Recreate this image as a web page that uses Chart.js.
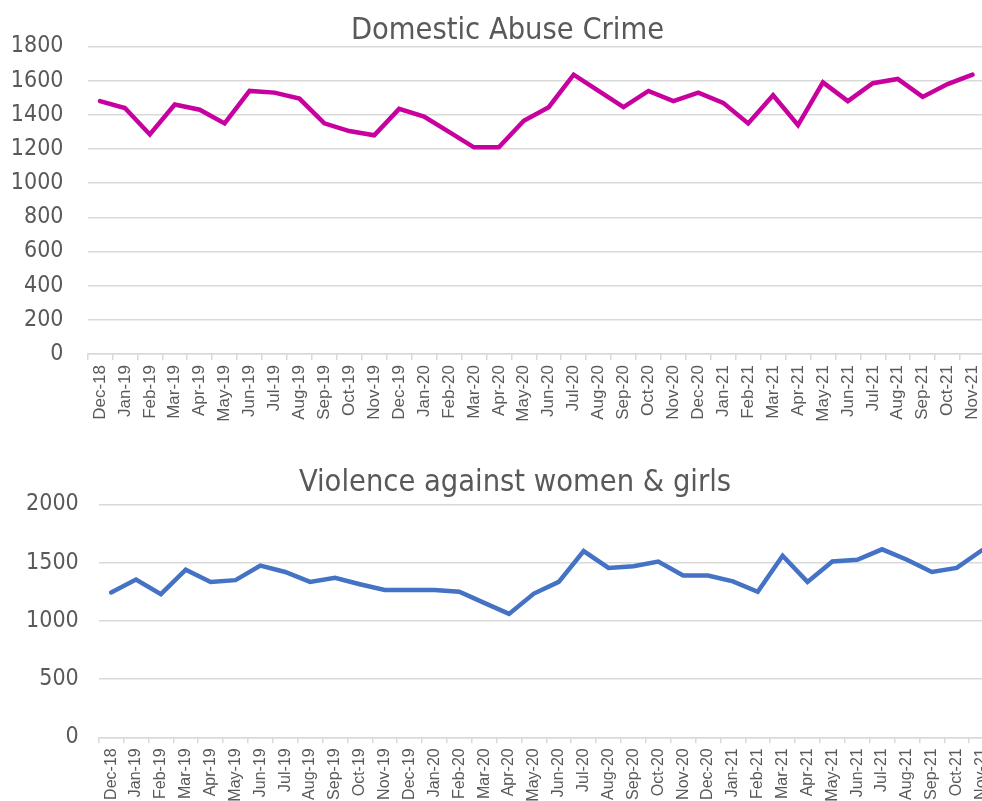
<!DOCTYPE html>
<html>
<head>
<meta charset="utf-8">
<script src="https://cdn.jsdelivr.net/npm/chart.js@4"></script>
<style>
  html, body { margin: 0; padding: 0; background: #fff; overflow: hidden; width: 982px; height: 801px; }
  #box1 { position: absolute; left: 0; top: 0; width: 985px; height: 440px; }
  #box2 { position: absolute; left: 0; top: 440px; width: 994px; height: 361px; }
</style>
</head>
<body>
<div id="box1"><canvas id="grafico1"></canvas></div>
<div id="box2"><canvas id="grafico2"></canvas></div>
<script>
// Meses (Dec-18 .. Nov-21)
var meses = ['Dec-18','Jan-19','Feb-19','Mar-19','Apr-19','May-19','Jun-19','Jul-19','Aug-19','Sep-19','Oct-19','Nov-19',
  'Dec-19','Jan-20','Feb-20','Mar-20','Apr-20','May-20','Jun-20','Jul-20','Aug-20','Sep-20','Oct-20','Nov-20',
  'Dec-20','Jan-21','Feb-21','Mar-21','Apr-21','May-21','Jun-21','Jul-21','Aug-21','Sep-21','Oct-21','Nov-21'];

var abusoDomestico = [1480, 1440, 1285, 1460, 1430, 1350, 1540, 1530, 1495, 1350, 1305, 1280,
  1435, 1390, 1300, 1210, 1210, 1365, 1445, 1635, 1540, 1445, 1540, 1480,
  1530, 1470, 1350, 1515, 1340, 1590, 1480, 1585, 1610, 1505, 1580, 1635];

var violenciaMujeres = [1245, 1355, 1230, 1440, 1335, 1350, 1475, 1420, 1335, 1370, 1315, 1265,
  1265, 1265, 1250, 1155, 1060, 1235, 1335, 1600, 1455, 1470, 1510, 1390,
  1390, 1340, 1250, 1560, 1335, 1510, 1525, 1615, 1525, 1420, 1455, 1605];

var titulo1 = 'Domestic Abuse Crime';
var titulo2 = 'Violence against women & girls';

var gris = '#595959';
var lineaGrid = '#d9d9d9';
var fuenteEje = '"DejaVu Sans Condensed", "Liberation Sans Narrow", sans-serif';
var fuenteMes = '"Liberation Sans", Arial, sans-serif';

// mueve el título un poco a la derecha, como en Excel
var moverTitulo = {
    id: 'moverTitulo',
    afterLayout: function (chart, args, opts) {
        if (chart.titleBlock) {
            chart.titleBlock.left += opts.dx;
            chart.titleBlock.right += opts.dx;
        }
    }
};

function crearGrafico(id, valores, color, titulo, cfg) {
    var ctx = document.getElementById(id).getContext('2d');
    return new Chart(ctx, {
        type: 'line',
        data: {
            labels: meses,
            datasets: [{
                data: valores,
                borderColor: color,
                borderWidth: 4.5,
                pointRadius: 0,
                tension: 0,
                fill: false,
                borderCapStyle: 'round',
                borderJoinStyle: 'miter'
            }]
        },
        plugins: [moverTitulo],
        options: {
            responsive: true,
            maintainAspectRatio: false,
            animation: false,
            layout: { padding: { left: 0, right: 0, top: 0, bottom: 0 } },
            plugins: {
                legend: { display: false },
                tooltip: { enabled: false },
                moverTitulo: { dx: cfg.dxTitulo },
                title: {
                    display: true,
                    text: titulo,
                    color: gris,
                    font: { family: fuenteEje, size: 30.5, weight: 'normal', lineHeight: 1 },
                    padding: cfg.tituloPadding
                }
            },
            scales: {
                x: {
                    offset: true,
                    border: { display: true, color: lineaGrid, width: 1.5 },
                    grid: { offset: true, drawOnChartArea: false, drawTicks: true, tickLength: 6, color: lineaGrid, lineWidth: 1.5 },
                    ticks: {
                        autoSkip: false,
                        minRotation: 90,
                        maxRotation: 90,
                        padding: 5,
                        color: gris,
                        font: { family: fuenteMes, size: cfg.mesSize }
                    },
                    afterFit: function (s) {
                        s.height = cfg.altoX;
                        s.paddingLeft = 0;
                        s.paddingRight = 0;
                    }
                },
                y: {
                    min: 0,
                    max: cfg.max,
                    border: { display: false },
                    grid: { drawTicks: false, color: lineaGrid, lineWidth: 1.5 },
                    ticks: {
                        stepSize: cfg.paso,
                        padding: cfg.yPadding,
                        color: gris,
                        font: { family: fuenteEje, size: 23 },
                        callback: function (v) { return String(v); }
                    },
                    afterFit: function (s) { s.width = cfg.anchoY; }
                }
            }
        }
    });
}

crearGrafico('grafico1', abusoDomestico, '#c8009e', titulo1, {
    max: 1800, paso: 200, anchoY: 87.5, altoX: 86, yPadding: 24, mesSize: 17, dxTitulo: 15,
    tituloPadding: { top: 16, bottom: 0 }
});

crearGrafico('grafico2', violenciaMujeres, '#4472c4', titulo2, {
    max: 2000, paso: 500, anchoY: 98.7, altoX: 63.7, yPadding: 20, mesSize: 16, dxTitulo: 18,
    tituloPadding: { top: 28, bottom: 6 }
});
</script>
</body>
</html>
